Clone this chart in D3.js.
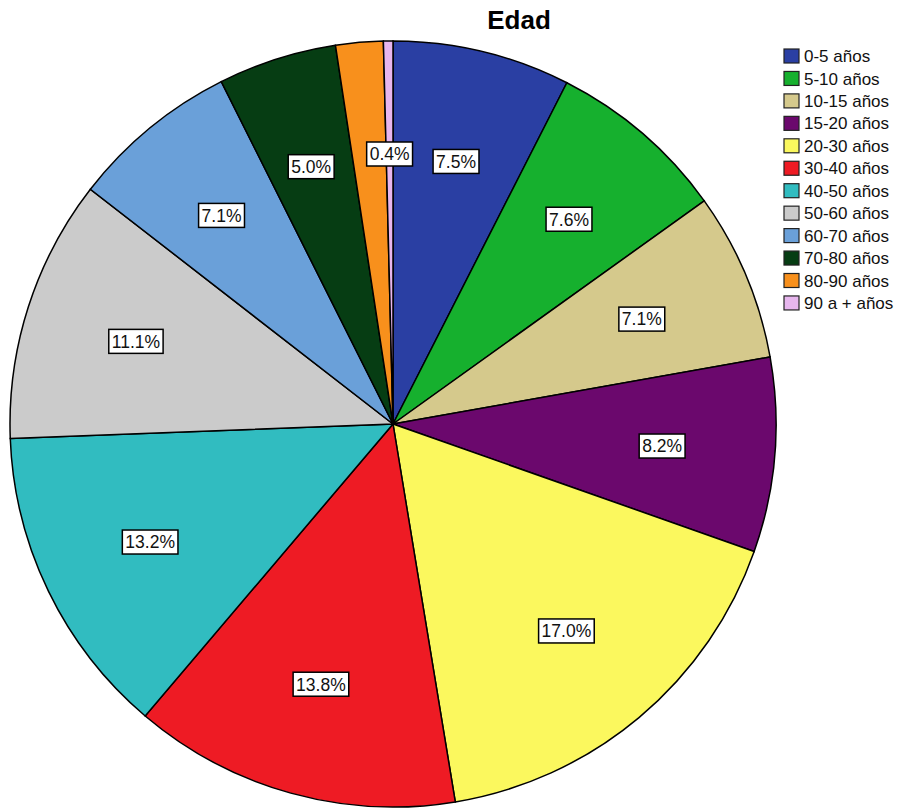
<!DOCTYPE html>
<html>
<head>
<meta charset="utf-8">
<script src="https://cdn.jsdelivr.net/npm/d3@7"></script>
<style>
  body { margin: 0; background: #fff; }
  svg { display: block; font-family: Arial, "Liberation Sans", sans-serif; }
</style>
</head>
<body>
<svg id="chart" width="905" height="809"></svg>
<script>
const categories = ['0-5 años', '5-10 años', '10-15 años', '15-20 años', '20-30 años', '30-40 años',
  '40-50 años', '50-60 años', '60-70 años', '70-80 años', '80-90 años', '90 a + años']
const percents = [7.5, 7.6, 7.1, 8.2, 17.0, 13.8, 13.2, 11.1, 7.1, 5.0, 2.0, 0.4]
const showLabel = [true, true, true, true, true, true, true, true, true, true, false, true]
const colors = ['#2a3fa3', '#16b02e', '#d5c98c', '#6b086d', '#fbf85e', '#ee1b24',
  '#31bcc0', '#cbcbcb', '#6aa0d9', '#063d13', '#f8901c', '#e7b6ee']

const svg = d3.select('#chart')
const cx = 393, cy = 424, R = 383

svg.append('text')
  .attr('x', 519)
  .attr('y', 29)
  .attr('text-anchor', 'middle')
  .attr('font-size', 26)
  .attr('font-weight', 'bold')
  .text('Edad')

let pie = d3.pie().sort(null).value(d => d)
let arcs = pie(percents)
let arc = d3.arc().innerRadius(0).outerRadius(R)
let labelArc = d3.arc().innerRadius(R * 0.705).outerRadius(R * 0.705)

let g = svg.append('g').attr('transform', `translate(${cx}, ${cy})`)

g.selectAll('path')
  .data(arcs)
  .enter()
  .append('path')
  .attr('d', arc)
  .attr('fill', (d, i) => colors[i])
  .attr('stroke', '#000')
  .attr('stroke-width', 1.5)

let labels = g.selectAll('g.lbl')
  .data(arcs.filter((d, i) => showLabel[i]))
  .enter()
  .append('g')
  .attr('class', 'lbl')
  .attr('transform', d => `translate(${labelArc.centroid(d)})`)

labels.append('rect')
labels.append('text')
  .attr('text-anchor', 'middle')
  .attr('dy', '0.36em')
  .attr('font-size', 17.5)
  .attr('fill', '#111')
  .text(d => d.data.toFixed(1) + '%')

labels.each(function() {
  let box = d3.select(this).select('text').node().getBBox()
  d3.select(this).select('rect')
    .attr('x', box.x - 3)
    .attr('y', -12)
    .attr('width', box.width + 6)
    .attr('height', 24)
    .attr('fill', '#fff')
    .attr('stroke', '#000')
    .attr('stroke-width', 1.5)
})

// legend
let legend = svg.append('g').attr('transform', 'translate(784, 56)')
let rows = legend.selectAll('g')
  .data(categories)
  .enter()
  .append('g')
  .attr('transform', (d, i) => `translate(0, ${i * 22.45})`)

rows.append('rect')
  .attr('x', 0)
  .attr('y', -7)
  .attr('width', 15)
  .attr('height', 14)
  .attr('fill', (d, i) => colors[i])
  .attr('stroke', '#222')
  .attr('stroke-width', 1.2)

rows.append('text')
  .attr('x', 20)
  .attr('dy', '0.36em')
  .attr('font-size', 17)
  .attr('fill', '#111')
  .text(d => d)
</script>
</body>
</html>
